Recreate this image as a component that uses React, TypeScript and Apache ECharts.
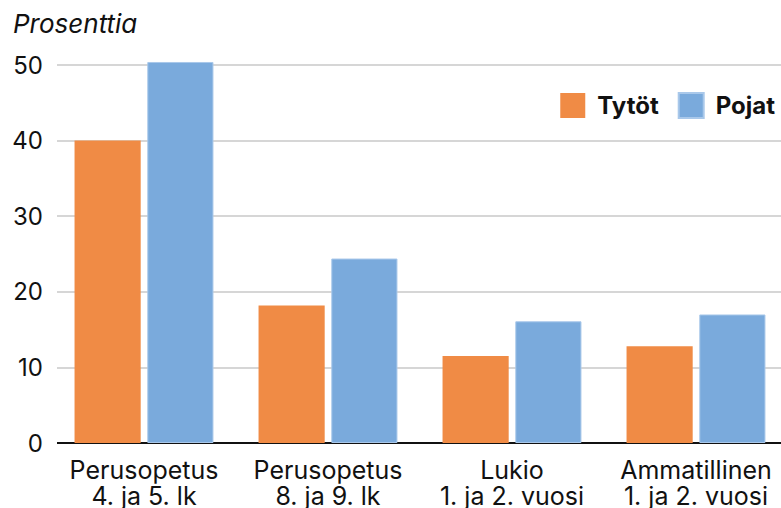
import React, { useEffect, useRef } from "react";
import * as echarts from "echarts";

const categories = [
  "Perusopetus\n4. ja 5. lk",
  "Perusopetus\n8. ja 9. lk",
  "Lukio\n1. ja 2. vuosi",
  "Ammatillinen\n1. ja 2. vuosi",
];
const tytot = [40.0, 18.2, 11.5, 12.8];
const pojat = [50.4, 24.4, 16.1, 17.0];
const yTicks = { min: 0, max: 50, interval: 10 };

const FONT = "Inter, 'Liberation Sans', sans-serif";

export default function App() {
  const ref = useRef<HTMLDivElement>(null);
  useEffect(() => {
    if (!ref.current) return;
    const chart = echarts.init(ref.current, null, { renderer: "svg" });
    chart.setOption({
      animation: false,
      textStyle: { fontFamily: FONT },
      title: {
        text: "Prosenttia",
        left: 8,
        top: 5,
        textStyle: { fontFamily: FONT, fontSize: 26, fontStyle: "italic", fontWeight: "normal", color: "#111" },
      },
      legend: {
        right: 1,
        top: 87,
        itemWidth: 25,
        itemHeight: 25,
        itemGap: 19,
        icon: "rect",
        textStyle: { fontFamily: FONT, fontSize: 24, fontWeight: "bold", color: "#111", padding: [0, 0, 0, 7] },
        data: ["Tytöt", "Pojat"],
      },
      grid: { left: 52, top: 65, bottom: 65, width: 736, containLabel: false, outerBoundsMode: "none" },
      xAxis: {
        type: "category",
        data: categories,
        axisLine: { lineStyle: { color: "#111", width: 2 } },
        axisTick: { show: false },
        axisLabel: { fontFamily: FONT, fontSize: 25, color: "#111", lineHeight: 26, margin: 14, interval: 0, hideOverlap: false },
      },
      yAxis: {
        type: "value",
        min: yTicks.min,
        max: yTicks.max,
        interval: yTicks.interval,
        axisLine: { show: false },
        axisTick: { show: false },
        splitLine: { lineStyle: { color: "#c8c8c8", width: 1.5 } },
        axisLabel: { fontFamily: FONT, fontSize: 24, color: "#111", margin: 9 },
      },
      graphic: [
        { type: "rect", left: 50, top: 55, shape: { width: 7, height: 395 }, style: { fill: "#fff" }, z: 100 },
      ],
      series: [
        {
          name: "Tytöt",
          type: "bar",
          data: tytot,
          clip: false,
          barGap: "10%",
          barCategoryGap: "24.5%",
          itemStyle: { color: "#F08B45" },
        },
        {
          name: "Pojat",
          type: "bar",
          data: pojat,
          clip: false,
          itemStyle: { color: "#7AAADC", borderColor: "#a9c8ea", borderWidth: 1 },
        },
      ],
    });
    return () => chart.dispose();
  }, []);
  return <div ref={ref} style={{ width: 781, height: 508, position: "absolute", left: 0, top: 0 }} />;
}
